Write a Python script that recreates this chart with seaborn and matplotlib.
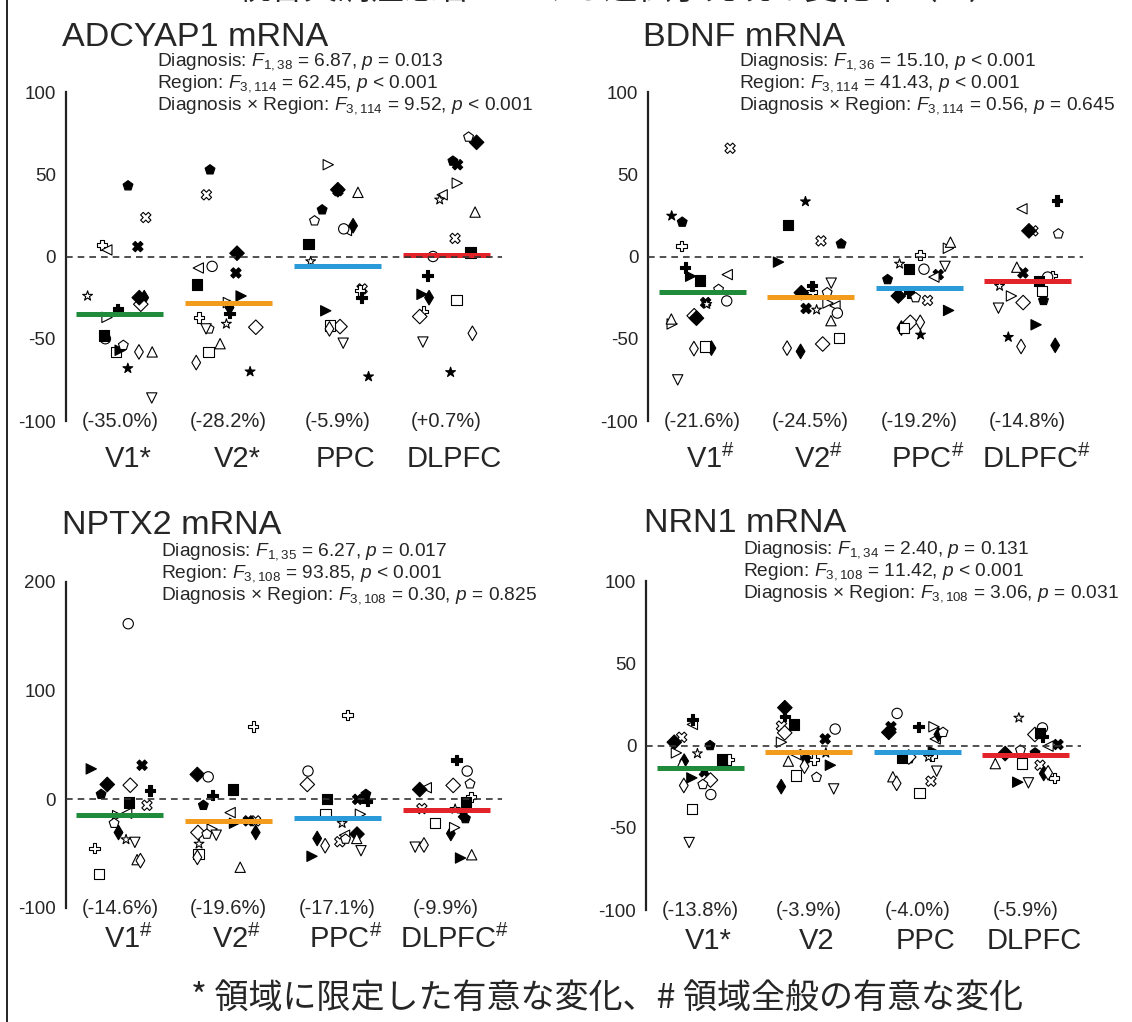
import numpy as np
import pandas as pd
import matplotlib
matplotlib.use("Agg")
import matplotlib.pyplot as plt
from matplotlib.lines import Line2D
from matplotlib.ticker import MultipleLocator
from matplotlib.transforms import ScaledTranslation
import seaborn as sns

sns.set_style("white")
plt.rcParams['font.family'] = ['Liberation Sans', 'Noto Sans CJK JP', 'DejaVu Sans']
plt.rcParams['mathtext.fontset'] = 'custom'
plt.rcParams['mathtext.rm'] = 'Liberation Sans'
plt.rcParams['mathtext.it'] = 'Liberation Sans:italic'
plt.rcParams['axes.unicode_minus'] = False

nan = np.nan
regions = ['V1', 'V2', 'PPC', 'DLPFC']
line_colors = ['#1f8b3b', '#f29b1c', '#2a9ad8', '#e2232a']

# one marker per subject (same subject across regions and genes)
subj_markers = ['p', 'X', 'X', 'P', '<', 'd', '*', 'D', 'D', 'P',
                '>', 'o', 's', 's', '>', 'p', '^', 'd', '*', 'v']
subj_filled = [1, 0, 1, 0, 0, 1, 0, 0, 1, 1,
               0, 0, 1, 0, 1, 0, 0, 0, 1, 0]

# ADCYAP1 (% change per subject)
adcyap1_v1 = [43, 23.7, 6, 7, 4, -25, -24, -29, -25, -32, -37, -50, -48, -58, -57, -54, -58, -58, -68, -86]
adcyap1_v2 = [52.7, 37.5, -10, -37, -7, -31, -41, -43, 2, -34.5, -28, -6, -17, -58, -24, -44, -53, -64.5, -70, -44]
adcyap1_ppc = [28.4, -19.7, 40, -20.7, 15.8, 18.7, -3, -42.6, 40.6, -25, 55.8, 16.8, 7.7, -42, -33, 21.7, 39, -44, -73, -52.7]
adcyap1_dlpfc = [58, 11, 55.8, -33.5, 37.5, -25, 34.5, -36.5, 69.4, -11.6, 44.6, 0, 2.4, -26.4, -23, 72.6, 27, -46.7, -70.4, -52]
adcyap1_mean = [-35.0, -28.2, -5.9, 0.7]
adcyap1_sig = ['*', '*', '', '']

# BDNF
bdnf_v1 = [20.9, 65.8, -28, 6.5, -11, -55.7, -29, -36, -37.5, -6.7, -41, -27, -14.6, -54.7, -12, -20, -38, -56, 24.7, -75]
bdnf_v2 = [7.7, 9.5, -31.6, -21.7, -30, -57.7, -32.4, -53.2, -22, -17.8, -28.3, -34.4, 19.2, -49.6, -3.4, -22, -39, -55.7, 33.4, -16.2]
bdnf_ppc = [-14, -26.7, -11, 1, -12.5, -43.5, -4.5, -40, -24, -22, 5, -7.7, -7.7, -43.5, -32.8, -25, 8.7, -40, -47.6, -6]
bdnf_dlpfc = [-26.7, 15.6, -10, -11.7, 29, -54, -18, -28, 15.6, 34, -24, -12.5, -15, -21, -41.5, 13.8, -6.5, -54.7, -49, -31.4]
bdnf_mean = [-21.6, -24.5, -19.2, -14.8]
bdnf_sig = ['#', '#', '#', '#']

# NPTX2
nptx2_v1 = [4.6, -5.5, 31.4, -45, -12.8, -30.5, -37, 13, 13.7, 8.2, -15, 161.6, -3, -68.6, 28, -22, -55.5, -56.4, nan, -39.6]
nptx2_v2 = [-5.5, -19.8, -19.8, 67, -12.2, -30.5, -41, -30.5, 22.9, 3.7, -27.4, 20.7, 9, -50.3, -22, -32, -62.5, -53.4, nan, -33]
nptx2_ppc = [4.6, -39, 0, 77.7, -33, -36, -22, 13.7, -32, -1.5, -13.7, 26, 0.6, -13.7, -52.4, -36.6, -36, -42.7, nan, -47.3]
nptx2_dlpfc = [-17.7, -8.5, -13.7, 2, 10.7, -31.4, -9, 12.8, 9, 36, -26, 26, -2.4, -22, -54, 14.3, -51, -42, nan, -44]
nptx2_mean = [-14.6, -19.6, -17.1, -9.9]
nptx2_sig = ['#', '#', '#', '#']

# NRN1
nrn1_v1 = [0, 5, -16, -8.5, 12.8, -9.5, -4.9, -21, 2, 15.8, -4.5, -29.8, -8.5, -38.5, -19.7, -23.7, -11, -24.3, nan, -59]
nrn1_v2 = [-8, 11.8, 4, -8.5, -5.5, -25, -4.5, 7.7, 23, 17.8, 2, 10, 12.8, -18.3, -12, -19.3, -9.5, -12.6, nan, -26.4]
nrn1_ppc = [-8, -21.7, 11.4, -6.5, 4, 6.7, -7, -7, 8, 11.4, 11.4, 19.5, -7.5, -28.8, -3.5, 8, -19, -23, nan, -15.6]
nrn1_dlpfc = [-4.5, -12, 0.6, -19.7, -0.4, -17, 16.8, 6.7, -4.9, 5.3, nan, 10.7, 7.7, -11, -22.3, -2.8, -11, -16.6, nan, -22.7]
nrn1_mean = [-13.8, -3.9, -4.0, -5.9]
nrn1_sig = ['*', '', '', '']

W, H = 1132, 1022
rng = np.random.default_rng(7)


def long_table(cols):
    rows = []
    for r, vals in enumerate(cols):
        for s, v in enumerate(vals):
            rows.append((r, s, 'filled' if subj_filled[s] else 'open', v))
    df = pd.DataFrame(rows, columns=['region', 'subject', 'fill', 'value']).dropna()
    # horizontal jitter within each region column
    df['xpos'] = df['region'] + rng.uniform(-0.3, 0.3, len(df))
    return df


def draw_panel(ax, cols, means, sig, title, stats, ylim, major, title_px, stats_px, pad):
    df = long_table(cols)
    sns.scatterplot(data=df, x='xpos', y='value', style='subject',
                    markers=dict(enumerate(subj_markers)), hue='fill',
                    palette={'filled': 'black', 'open': 'white'},
                    edgecolor='black', linewidth=0.8, s=55, legend=False, ax=ax, zorder=2)
    xs = np.arange(len(regions))
    ax.hlines(means, xs - 0.4, xs + 0.4, colors=line_colors, linewidth=3.6, zorder=3)
    ax.axhline(0, color='#333333', linestyle=(0, (4, 3)), linewidth=1.2, zorder=4)
    for i, m in enumerate(means):
        ax.text(i, ylim[0], f"({m:+.1f}%)", ha='center', va='center', fontsize=14.5, clip_on=False)
    labels = [r + (r"$^{\#}$" if g == '#' else g) for r, g in zip(regions, sig)]
    ax.set_xticks(xs)
    ax.set_xticklabels(labels, fontsize=21)
    ax.tick_params(axis='x', length=0, pad=pad)
    shift = ScaledTranslation(6 / 72, 0, fig.dpi_scale_trans)
    for lbl in ax.get_xticklabels():
        lbl.set_transform(lbl.get_transform() + shift)
    ax.set_xlim(-0.5, 3.51)
    ax.set_ylim(*ylim)
    ax.yaxis.set_major_locator(MultipleLocator(major))
    ax.yaxis.set_minor_locator(MultipleLocator(major / 2))
    ax.tick_params(axis='y', which='major', direction='out', length=5, width=1.4, labelsize=13.5, pad=2)
    ax.tick_params(axis='y', which='minor', direction='out', length=3.5, width=1.2)
    ax.set_xlabel('')
    ax.set_ylabel('')
    for sp in ['top', 'right', 'bottom']:
        ax.spines[sp].set_visible(False)
    ax.spines['left'].set_linewidth(1.6)
    ax.spines['left'].set_color('#222222')
    fig.text(title_px[0] / W, 1 - title_px[1] / H, title, fontsize=24.6, va='center', ha='left')
    for k, line in enumerate(stats):
        fig.text(stats_px[0] / W, 1 - (stats_px[1] + 22 * k) / H, line, fontsize=13.8,
                 va='center', ha='left')


fig = plt.figure(figsize=(W / 100, H / 100), dpi=100)

ax1 = fig.add_axes([65.5 / W, 1 - 421 / H, 436 / W, 329 / H])
ax2 = fig.add_axes([648 / W, 1 - 421 / H, 435 / W, 329 / H])
ax3 = fig.add_axes([65.5 / W, 1 - 908 / H, 436 / W, 326 / H])
ax4 = fig.add_axes([646 / W, 1 - 910 / H, 435 / W, 329 / H])

draw_panel(ax1, [adcyap1_v1, adcyap1_v2, adcyap1_ppc, adcyap1_dlpfc], adcyap1_mean, adcyap1_sig,
           'ADCYAP1 mRNA',
           [r"Diagnosis: $F_{1,38}$ = 6.87, $p$ = 0.013",
            r"Region: $F_{3,114}$ = 62.45, $p$ < 0.001",
            r"Diagnosis × Region: $F_{3,114}$ = 9.52, $p$ < 0.001"],
           (-100, 100), 50, (62, 37), (157, 62), 17)
draw_panel(ax2, [bdnf_v1, bdnf_v2, bdnf_ppc, bdnf_dlpfc], bdnf_mean, bdnf_sig,
           'BDNF mRNA',
           [r"Diagnosis: $F_{1,36}$ = 15.10, $p$ < 0.001",
            r"Region: $F_{3,114}$ = 41.43, $p$ < 0.001",
            r"Diagnosis × Region: $F_{3,114}$ = 0.56, $p$ = 0.645"],
           (-100, 100), 50, (643, 37), (739, 62), 17)
draw_panel(ax3, [nptx2_v1, nptx2_v2, nptx2_ppc, nptx2_dlpfc], nptx2_mean, nptx2_sig,
           'NPTX2 mRNA',
           [r"Diagnosis: $F_{1,35}$ = 6.27, $p$ = 0.017",
            r"Region: $F_{3,108}$ = 93.85, $p$ < 0.001",
            r"Diagnosis × Region: $F_{3,108}$ = 0.30, $p$ = 0.825"],
           (-100, 200), 100, (62, 525), (161, 552), 12)
draw_panel(ax4, [nrn1_v1, nrn1_v2, nrn1_ppc, nrn1_dlpfc], nrn1_mean, nrn1_sig,
           'NRN1 mRNA',
           [r"Diagnosis: $F_{1,34}$ = 2.40, $p$ = 0.131",
            r"Region: $F_{3,108}$ = 11.42, $p$ < 0.001",
            r"Diagnosis × Region: $F_{3,108}$ = 3.06, $p$ = 0.031"],
           (-100, 100), 50, (644, 523), (743, 550), 12)

# heading cropped at the top edge (only its lower rim shows), caption, frame line on the left
fig.text(620 / W, 1 - 7 / H, "統合失調症患者における遺伝子発現の変化率（%）",
         fontsize=24, ha='center', va='bottom',
         family=['Noto Sans CJK JP', 'DejaVu Sans'])
fig.text(607 / W, 1 - 998 / H, "* 領域に限定した有意な変化、# 領域全般の有意な変化",
         fontsize=24.5, ha='center', va='center',
         family=['Noto Sans CJK JP', 'DejaVu Sans'])
fig.add_artist(Line2D([7 / W, 7 / W], [0, 1], transform=fig.transFigure, color='black', linewidth=1.2))

fig.savefig('out.png', dpi=100)
